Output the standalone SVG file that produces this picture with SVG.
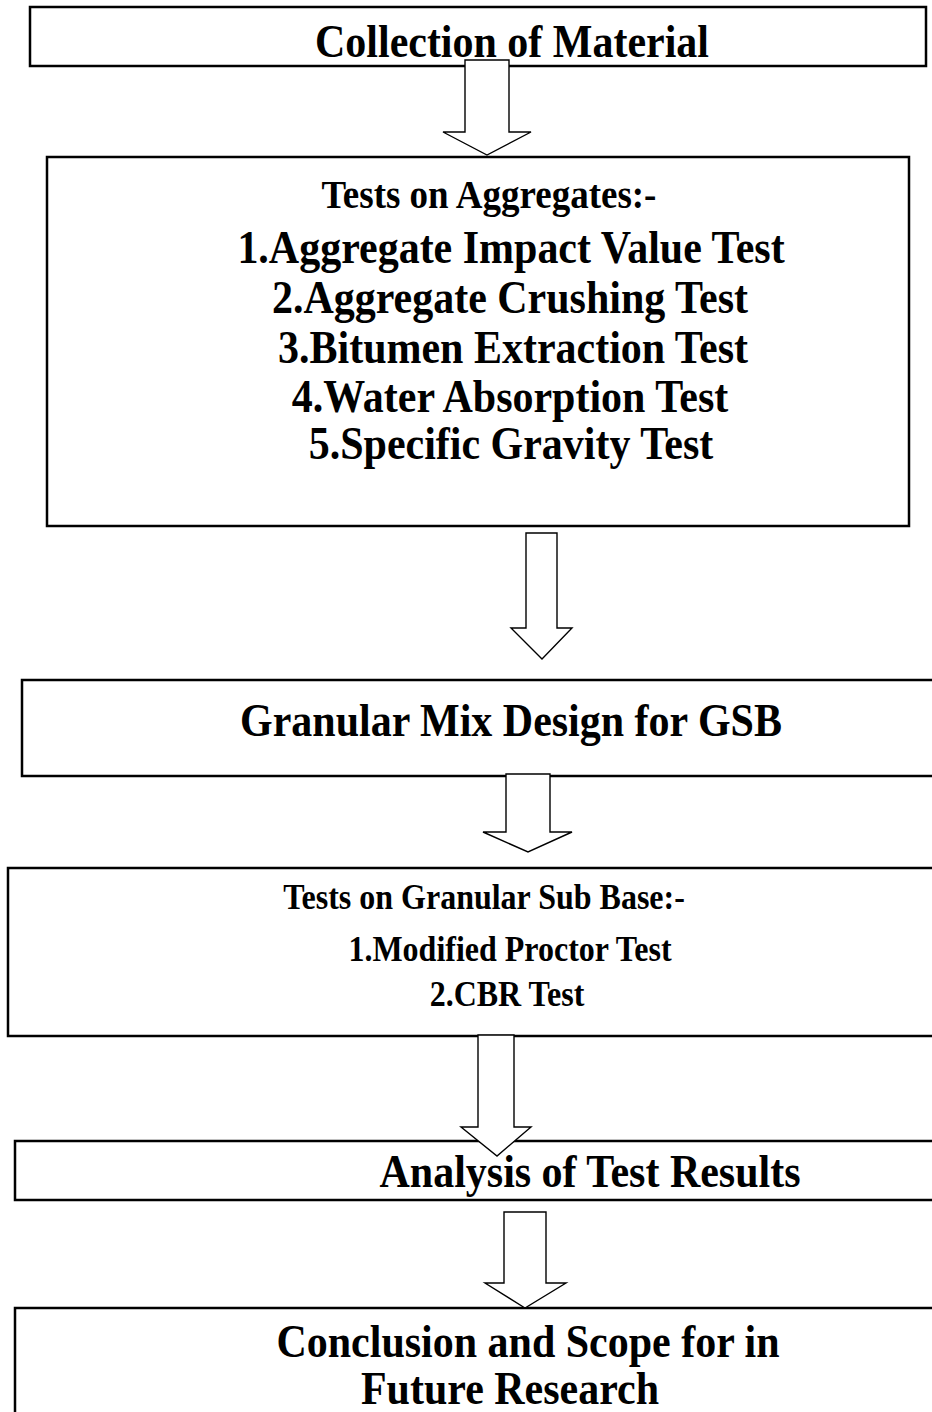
<svg xmlns="http://www.w3.org/2000/svg" width="932" height="1412" viewBox="0 0 932 1412">
<style>
.box{fill:#fff;stroke:#000;stroke-width:2.5}
.arr{fill:#fff;stroke:#000;stroke-width:1.4;stroke-linejoin:miter}
text{font-family:"Liberation Serif","Times New Roman",serif;font-weight:bold;fill:#000;text-anchor:middle}
.l{font-size:42px}
.t{font-size:37px}
.s{font-size:32px}
</style>
<rect x="0" y="0" width="932" height="1412" fill="#fff"/>
<g id="n1">
<rect class="box" x="30" y="7" width="896" height="59"/>
<text class="l" transform="translate(512,57) scale(1,1.1)">Collection of Material</text>
</g>
<g id="n2">
<rect class="box" x="47" y="157" width="862" height="369"/>
<text class="t" transform="translate(489,208) scale(1,1.1)">Tests on Aggregates:-</text>
<text class="l" transform="translate(511,263) scale(1,1.1)">1.Aggregate Impact Value Test</text>
<text class="l" transform="translate(510,313) scale(1,1.1)">2.Aggregate Crushing Test</text>
<text class="l" transform="translate(513,363) scale(1,1.1)">3.Bitumen Extraction Test</text>
<text class="l" transform="translate(510,412) scale(1,1.1)">4.Water Absorption Test</text>
<text class="l" transform="translate(511,459) scale(1,1.1)">5.Specific Gravity Test</text>
</g>
<g id="n3">
<rect class="box" x="22" y="680" width="920" height="96"/>
<text class="l" transform="translate(511,736) scale(1,1.1)">Granular Mix Design for GSB</text>
</g>
<g id="n4">
<rect class="box" x="8" y="868" width="934" height="168"/>
<text class="s" transform="translate(484,909) scale(1,1.1)">Tests on Granular Sub Base:-</text>
<text class="s" transform="translate(510,961) scale(1,1.1)">1.Modified Proctor Test</text>
<text class="s" transform="translate(507,1006) scale(1,1.1)">2.CBR Test</text>
</g>
<g id="n5">
<rect class="box" x="15" y="1141" width="927" height="59"/>
<text class="l" transform="translate(590,1187) scale(1,1.1)">Analysis of Test Results</text>
</g>
<g id="n6">
<rect class="box" x="15" y="1308" width="927" height="120"/>
<text class="l" transform="translate(528,1357) scale(1,1.1)">Conclusion and Scope for in</text>
<text class="l" transform="translate(510,1404) scale(1,1.1)">Future Research</text>
</g>
<g id="connectors">
<polygon class="arr" points="465,60 509,60 509,132 531,132 487,155 443,132 465,132"/>
<polygon class="arr" points="526,533 557,533 557,628 572,628 542,659 511,628 526,628"/>
<polygon class="arr" points="506,774 550,774 550,832 572,832 528,852 483,832 506,832"/>
<polygon class="arr" points="478,1035 514,1035 514,1127 531,1127 497,1156 461,1127 478,1127"/>
<polygon class="arr" points="504,1212 546,1212 546,1283 566,1283 525,1308 485,1283 504,1283"/>
</g>
</svg>
